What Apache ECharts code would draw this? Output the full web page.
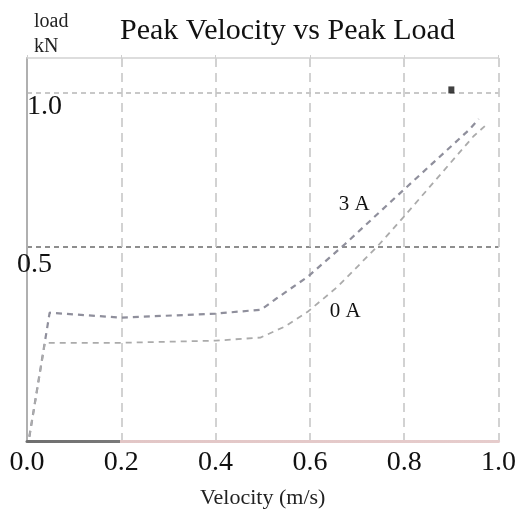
<!DOCTYPE html>
<html>
<head>
<meta charset="utf-8">
<title>Peak Velocity vs Peak Load</title>
<script src="https://cdn.jsdelivr.net/npm/echarts@6/dist/echarts.min.js"></script>
<style>
  html, body { margin: 0; padding: 0; background: #ffffff; }
  #chart { width: 519px; height: 514px; }
</style>
</head>
<body>
<div id="chart"></div>
<script>
// Peak load (kN) against peak velocity (m/s) for two coil currents.
const velocity3A = [0.005, 0.048, 0.2, 0.4, 0.497, 0.526, 0.596, 0.674, 0.8, 0.939, 0.958];
const load3A     = [-0.12, 0.284, 0.268, 0.281, 0.294, 0.327, 0.402, 0.507, 0.686, 0.882, 0.915];

const velocity0A = [0.005, 0.038, 0.2, 0.4, 0.495, 0.547, 0.596, 0.659, 0.743, 0.8, 0.947, 0.971];
const load0A     = [-0.12, 0.186, 0.186, 0.193, 0.203, 0.239, 0.288, 0.369, 0.5, 0.598, 0.859, 0.892];

// Curve tags: [velocity, load, text]
const seriesTags = [[0.694, 0.638, '3 A'], [0.675, 0.287, '0 A']];

// Marked peak point
const peakMark = [[0.9, 1.01]];

const xTicks = [0, 0.2, 0.4, 0.6, 0.8, 1.0];
const yTicks = [0.5, 1.0];

const serif = '"Liberation Serif", "DejaVu Serif", serif';

function pairs(xs, ys) { return xs.map((x, i) => [x, ys[i]]); }

function tagPoint(tag) {
  return {
    coord: [tag[0], tag[1]],
    symbol: 'rect',
    symbolSize: 1,
    itemStyle: { color: 'rgba(0,0,0,0)' },
    label: {
      show: true, position: 'inside', formatter: tag[2],
      fontFamily: serif, fontSize: 21, color: '#111'
    }
  };
}

const chart = echarts.init(document.getElementById('chart'), null, { renderer: 'canvas' });

chart.setOption({
  animation: false,
  backgroundColor: '#ffffff',
  title: {
    text: 'Peak Velocity vs Peak Load',
    left: 120, top: 16, padding: 0,
    textStyle: { fontFamily: serif, fontSize: 30, fontWeight: 'normal', color: '#111' }
  },
  grid: { left: 27, right: 17, top: 58, bottom: 73, containLabel: false },
  xAxis: [{
    type: 'value', min: 0, max: 1, interval: 0.2,
    name: 'Velocity (m/s)', nameLocation: 'middle', nameGap: 46,
    nameTextStyle: { fontFamily: serif, fontSize: 22, color: '#222' },
    axisLine: {
      show: true, onZero: false,
      lineStyle: {
        width: 3,
        color: new echarts.graphic.LinearGradient(0, 0, 1, 0, [
          { offset: 0, color: '#6e6e6e' }, { offset: 0.2, color: '#7a7a7a' },
          { offset: 0.2, color: '#e2c6c6' }, { offset: 1, color: '#e6cccc' }
        ])
      }
    },
    axisTick: { show: false, customValues: xTicks },
    axisLabel: {
      margin: 8, fontFamily: serif, fontSize: 28, color: '#111',
      formatter: v => v.toFixed(1)
    },
    splitLine: {
      show: true,
      lineStyle: { color: '#c4c4c4', width: 1.5, type: [9, 6] }
    }
  }, {
    type: 'value', position: 'top', min: 0, max: 1, interval: 0.2,
    axisLine: { show: true, onZero: false, lineStyle: { color: '#d2d2d2', width: 1.5 } },
    axisTick: { show: true, length: 3, lineStyle: { color: '#cfcfcf' } },
    axisLabel: { show: false },
    splitLine: { show: false }
  }],
  yAxis: {
    type: 'value', min: -0.134, max: 1.114,
    name: 'load\nkN', nameLocation: 'end', nameGap: -1,
    nameTextStyle: {
      fontFamily: serif, fontSize: 20, lineHeight: 25, color: '#222',
      align: 'left', verticalAlign: 'bottom', padding: [0, 0, 0, 7]
    },
    axisLine: { show: true, onZero: false, lineStyle: { color: '#b0b0b0', width: 2 } },
    axisTick: { show: false, customValues: yTicks },
    axisLabel: {
      customValues: yTicks,
      margin: 10, align: 'left', verticalAlign: 'top',
      fontFamily: serif, fontSize: 28, color: '#111',
      formatter: v => (v === 1 ? '{a|' : '{b|') + v.toFixed(1) + '}',
      rich: {
        a: { fontFamily: serif, fontSize: 28, color: '#111', padding: [0, 0, 0, 10] },
        b: { fontFamily: serif, fontSize: 28, color: '#111', padding: [4, 0, 0, 0] }
      }
    },
    splitLine: {
      show: true,
      lineStyle: { color: ['#8e8e8e', '#c8c8c8'], width: 2, type: [5, 4] }
    }
  },
  series: [{
    name: '3 A', type: 'line', data: pairs(velocity3A, load3A),
    symbol: 'none', smooth: false,
    lineStyle: { color: '#8f8f9c', width: 2.2, type: [6, 5] },
    markPoint: { data: [tagPoint(seriesTags[0])] }
  }, {
    name: '0 A', type: 'line', data: pairs(velocity0A, load0A),
    symbol: 'none', smooth: false,
    lineStyle: { color: '#ababab', width: 1.8, type: [6, 5] },
    markPoint: { data: [tagPoint(seriesTags[1])] }
  }, {
    name: 'peak', type: 'scatter', data: peakMark,
    symbol: 'rect', symbolSize: [6, 7],
    itemStyle: { color: '#111' }
  }]
});
</script>
</body>
</html>
